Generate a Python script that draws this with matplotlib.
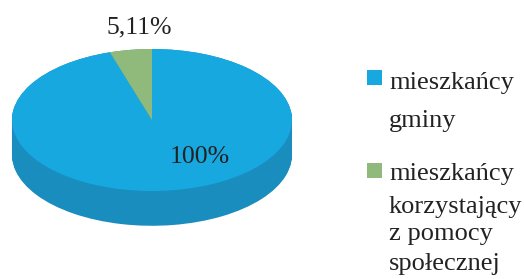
import numpy as np
import matplotlib.pyplot as plt
from matplotlib.patches import Rectangle

labels = ["mieszkańcy\ngminy", "mieszkańcy\nkorzystający\nz pomocy\nspołecznej"]
values = [100, 5.11]
top_colors = ["#17a8e0", "#8fba7c"]
side_colors = ["#1a8dbf", "#6f9a62"]

plt.rcParams['font.family'] = ['Liberation Serif', 'DejaVu Serif']

W, H = 524, 279
fig = plt.figure(figsize=(W / 100, H / 100), dpi=100)
ax = fig.add_axes([2 / W, 49 / H, 300 / W, 190 / H])

# side of the pie: stacked layers, darker
depth = 0.49
for d in np.linspace(depth, 0.0, 40):
    ax.pie(values, colors=side_colors, center=(0, -d), radius=1,
           startangle=90, counterclock=False,
           wedgeprops=dict(linewidth=0))
# top face
ax.pie(values, colors=top_colors, center=(0, 0), radius=1,
       startangle=90, counterclock=False,
       wedgeprops=dict(linewidth=0))

ax.set_aspect('auto')
ax.set_xlim(-150 / 140, 150 / 140)
ax.set_ylim(-110 / 71, 80 / 71)
ax.axis('off')

def fmt(v):
    s = f"{v:.2f}".rstrip('0').rstrip('.')
    return s.replace('.', ',') + "%"

ax.text(0.34, -0.52, fmt(values[0]), ha='center', va='center', fontsize=18.5, color='#222222')
ax.text(-0.09, 1.31, fmt(values[1]), ha='center', va='center', fontsize=18.5,
        color='#222222', clip_on=False)

# legend drawn by hand so the key sits at the first text line
key_tops = [70, 163]
baselines = [[89, 127], [180, 213, 240, 270]]
for lab, col, ktop, bls in zip(labels, top_colors, key_tops, baselines):
    fig.patches.append(Rectangle((367 / W, 1 - (ktop + 15) / H), 15 / W, 15 / H,
                                 transform=fig.transFigure, facecolor=col,
                                 edgecolor='none'))
    for line, yb in zip(lab.split("\n"), bls):
        fig.text(389 / W, 1 - yb / H, line, ha='left', va='baseline',
                 fontsize=19, color='#222222')

fig.savefig("out.png", dpi=100)
